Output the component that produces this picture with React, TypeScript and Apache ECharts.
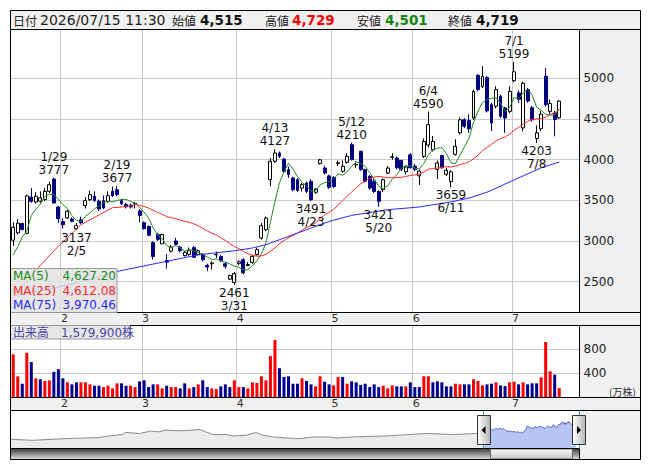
import React, { useEffect, useRef } from 'react';
import * as echarts from 'echarts';

// ---- trading days (2026) ----
const janDays = [16, 19, 20, 21, 22, 23, 26, 27, 28, 29, 30];
const febDays = [2, 3, 4, 5, 6, 9, 10, 12, 13, 16, 17, 18, 19, 20, 24, 25, 26, 27];
const marDays = [2, 3, 4, 5, 6, 9, 10, 11, 12, 13, 16, 17, 18, 19, 23, 24, 25, 26, 27, 30, 31];
const aprDays = [1, 2, 3, 6, 7, 8, 9, 10, 13, 14, 15, 16, 17, 20, 21, 22, 23, 24, 27, 28, 30];
const mayDays = [1, 7, 8, 11, 12, 13, 14, 15, 18, 19, 20, 21, 22, 25, 26, 27, 28, 29];
const junDays = [1, 2, 3, 4, 5, 8, 9, 10, 11, 12, 15, 16, 17, 18, 19, 22, 23, 24, 25, 26, 29, 30];
const julDays = [1, 2, 3, 6, 7, 8, 9, 10, 13, 14, 15];
const padSlots = 4;

// ---- OHLC ----
const opens = [
  3010, 3100, 3215, 3095, 3540, 3480, 3490, 3510, 3610, 3762, 3418,
  3240, 3283, 3270, 3150, 3262, 3435, 3508, 3549, 3488, 3496, 3488, 3610, 3630, 3496, 3450, 3440, 3460, 3370,
  3225, 3180, 2980, 3080, 2965, 2760, 2875, 3000, 2925, 2820, 2835, 2920, 2835, 2832, 2700, 2720, 2830, 2810, 2720, 2530, 2490,
  2725, 2770, 2700, 2737, 2832, 3037, 3139, 3754, 3980, 4082, 4008, 3877, 3775, 3754, 3651, 3713, 3733, 3598, 3951, 3897, 3800,
  3780, 3955, 3856, 3967, 4184, 3935, 4102, 3877, 3795, 3734, 3610, 3631, 3836, 4030, 4020, 3990, 3850, 4060,
  3920, 3800, 4040, 4180, 4120, 3880, 4050, 3820, 3730, 4065, 4330, 4490, 4480, 4512, 5037, 4900, 5010, 4676, 4656, 4779, 4635, 4594,
  4970, 4820, 4390, 4860, 4640, 4260, 4380, 5025, 4594, 4574, 4515,
];
const closes = [
  3170, 3220, 3140, 3555, 3488, 3550, 3530, 3610, 3692, 3467, 3274,
  3200, 3365, 3242, 3190, 3225, 3495, 3570, 3496, 3393, 3406, 3557, 3557, 3570, 3459, 3420, 3420, 3462, 3315,
  3150, 3070, 2810, 3020, 3080, 2740, 2925, 2960, 2880, 2860, 2880, 2800, 2880, 2770, 2680, 2730, 2836, 2760, 2690, 2575, 2600,
  2745, 2610, 2710, 2811, 2893, 3188, 3282, 3980, 4082, 4041, 3856, 3815, 3631, 3623, 3692, 3610, 3508, 3639, 3998, 3836, 3660,
  3670, 3962, 3918, 4041, 4000, 3940, 3877, 3734, 3651, 3610, 3488, 3754, 3897, 4035, 3900, 3880, 3910, 3900,
  3880, 3860, 4225, 4430, 4225, 3960, 3900, 3870, 3850, 4165, 4490, 4410, 4380, 4840, 4861, 5025, 4600, 4451, 4861, 4533, 4512, 4840,
  5080, 4740, 4940, 4720, 4490, 4330, 4560, 4676, 4689, 4492, 4719,
];
const lows = [
  2940, 3080, 3130, 3085, 3470, 3460, 3470, 3490, 3590, 3460, 3220,
  3150, 3270, 3230, 3137, 3210, 3400, 3490, 3480, 3370, 3390, 3470, 3540, 3550, 3440, 3400, 3400, 3400, 3230,
  3140, 3060, 2770, 3000, 2960, 2660, 2860, 2940, 2860, 2810, 2820, 2790, 2820, 2750, 2630, 2650, 2790, 2740, 2660, 2520, 2461,
  2700, 2590, 2690, 2720, 2820, 3016, 3120, 3672, 3960, 4020, 3840, 3775, 3610, 3600, 3610, 3590, 3491, 3580, 3940, 3815, 3640,
  3650, 3920, 3840, 3950, 3990, 3900, 3860, 3720, 3630, 3590, 3421, 3600, 3820, 4000, 3880, 3860, 3820, 3890,
  3860, 3690, 4020, 4150, 4100, 3760, 3890, 3800, 3659, 4050, 4310, 4390, 4330, 4490, 4840, 4880, 4580, 4350, 4630, 4510, 4328, 4570,
  4950, 4700, 4350, 4700, 4470, 4203, 4350, 4650, 4560, 4287, 4501,
];
const highs = [
  3230, 3270, 3225, 3570, 3650, 3600, 3610, 3650, 3730, 3777, 3430,
  3280, 3380, 3290, 3220, 3300, 3540, 3620, 3610, 3510, 3560, 3610, 3670, 3677, 3520, 3470, 3460, 3480, 3390,
  3240, 3190, 3000, 3100, 3090, 2840, 2950, 3040, 2940, 2880, 2920, 2940, 2900, 2850, 2720, 2750, 2870, 2830, 2740, 2590, 2620,
  2760, 2790, 2740, 2830, 2920, 3220, 3300, 4020, 4127, 4100, 4020, 3918, 3790, 3770, 3713, 3730, 3760, 3650, 4010, 3926, 3815,
  3800, 3990, 3990, 4080, 4210, 3980, 4110, 3890, 3810, 3760, 3620, 3770, 3920, 4080, 4040, 4000, 3930, 4080,
  3950, 3880, 4260, 4590, 4290, 3990, 4060, 3900, 3870, 4250, 4520, 4510, 4560, 4860, 5050, 5150, 5030, 4700, 4902, 4800, 4650, 4902,
  5199, 4850, 4960, 4880, 4660, 4420, 4600, 5127, 4740, 4600, 4729,
];
// volume in 10,000 shares (万株)
const volumes = [
  716, 352, 229, 743, 587, 319, 302, 274, 285, 425, 470,
  319, 252, 218, 252, 252, 252, 218, 196, 196, 173, 196, 151, 235, 235, 196, 196, 173, 268,
  285, 173, 218, 218, 151, 196, 173, 173, 151, 235, 151, 173, 218, 285, 173, 151, 140, 185, 218, 173, 285,
  173, 173, 151, 252, 241, 352, 285, 688, 956, 486, 341, 352, 229, 229, 319, 274, 218, 185, 352, 263, 218,
  201, 341, 341, 229, 268, 252, 207, 229, 173, 218, 173, 196, 151, 201, 185, 185, 185, 252,
  173, 173, 352, 352, 252, 268, 252, 185, 185, 229, 218, 218, 218, 302, 274, 201, 218, 229, 252, 201, 190, 252,
  263, 218, 252, 218, 235, 235, 335, 922, 436, 380, 157.99,
];

// ---- moving averages: read where earlier history is needed ----
const ma5Head = [2830, 2930, 3050, 3120];
const ma25Read: [number, number][] = [[1, 2360], [3, 2500], [6, 2700], [9, 2880], [12, 3040], [15, 3200], [19, 3320], [22, 3410]];
const ma75Read: [number, number][] = [
  [0, 2330], [9, 2420], [17, 2530], [23, 2626], [34, 2750], [41, 2830], [49, 2880], [53, 2914], [56, 2955], [60, 3036],
  [64, 3118], [70, 3240], [75, 3315], [83, 3385], [90, 3418], [97, 3480], [101, 3528], [105, 3600], [109, 3700],
  [113, 3800], [117, 3900], [121, 3970],
];
const maLegendValues = ['4,627.20', '4,612.08', '3,970.46'];

const priceTicks = [2500, 3000, 3500, 4000, 4500, 5000];
const volumeLabels = [400, 800];
const highMarks = ['1/29', '2/19', '4/13', '5/12', '6/4', '7/1'];
const lowMarks = ['2/5', '3/31', '4/23', '5/20', '6/11', '7/8'];

// ---- overview (slider background) ----
const overviewHistory: [number, number][] = [
  [0, 1170], [28, 950], [72, 1330], [115, 1550], [128, 1910], [146, 2230], [150, 2680], [168, 2450], [183, 2970],
  [194, 2820], [203, 3200], [220, 3040], [238, 3200], [246, 3360], [255, 2820], [264, 2230], [281, 2230], [290, 1910],
  [308, 2070], [321, 2680], [330, 2070], [343, 1690], [360, 1460], [378, 1330], [395, 1690], [417, 1690], [426, 1460],
  [448, 1690], [491, 1910], [544, 2450], [579, 2230], [610, 2450],
];
const yearLabels: [number, string][] = [[124, '24'], [373, '25']];
const overviewSlots = 745;
const windowStartSlot = 618;

const LATIN = 'DejaVu Sans, Noto Sans CJK JP, sans-serif';
const CJK = 'Noto Sans CJK JP, sans-serif';

function buildDates() {
  const months: [number, number[]][] = [[1, janDays], [2, febDays], [3, marDays], [4, aprDays], [5, mayDays], [6, junDays], [7, julDays]];
  const dates: string[] = [];
  const starts: number[] = [];
  months.forEach(([m, days]) => {
    if (m !== 1) starts.push(dates.length);
    days.forEach((d) => dates.push(`${m}/${d}`));
  });
  return { dates, starts };
}

const fmt = (n: number) => n.toLocaleString('en-US');
const avg = (a: number[]) => a.reduce((s, v) => s + v, 0) / a.length;

function buildOption() {
  const { dates, starts } = buildDates();
  const n = dates.length;
  const cats = dates.concat(Array.from({ length: padSlots }, (_, k) => `_${k}`));
  const isStart = (i: number) => starts.indexOf(i) >= 0;
  const last = n - 1;

  const ma5 = closes.map((_, i) => (i < 4 ? ma5Head[i] : +avg(closes.slice(i - 4, i + 1)).toFixed(2)));
  const ma25: (number | null)[] = closes.map((_, i) => (i >= 24 ? +avg(closes.slice(i - 24, i + 1)).toFixed(2) : null));
  ma25Read.forEach(([i, v]) => (ma25[i] = v));
  const ma75: (number | null)[] = closes.map(() => null);
  ma75Read.forEach(([i, v]) => (ma75[i] = v));

  const idx = (d: string) => dates.indexOf(d);
  const markData = [
    ...highMarks.map((d) => {
      const i = idx(d);
      return { coord: [i, highs[i]], value: highs[i], label: { position: 'top', formatter: `${d}\n${highs[i]}` } };
    }),
    ...lowMarks.map((d) => {
      const i = idx(d);
      return { coord: [i, lows[i]], value: lows[i], label: { position: 'bottom', formatter: `${lows[i]}\n${d}` } };
    }),
  ];

  const hist: (number | null)[] = Array.from({ length: overviewSlots }, () => null);
  overviewHistory.forEach(([s, v]) => (hist[s] = v));
  hist[windowStartSlot] = closes[0];
  const win: (number | null)[] = Array.from({ length: overviewSlots }, () => null);
  closes.forEach((c, i) => (win[windowStartSlot + i] = c));
  const ovCats = Array.from({ length: overviewSlots }, (_, i) => String(i));
  const yearSlots = yearLabels.map((y) => y[0]);

  const monthAxis = (gridIndex: number) => ({
    type: 'category',
    gridIndex,
    data: cats,
    boundaryGap: true,
    axisLine: { show: false },
    axisTick: { show: false },
    axisLabel: {
      interval: (i: number) => isStart(i),
      formatter: (v: string) => v.split('/')[0],
      margin: 0,
      padding: [0, 0, 0, 3],
      fontSize: 11,
      color: '#333',
      fontFamily: LATIN,
    },
    splitLine: { show: true, interval: (i: number) => isStart(i), lineStyle: { color: '#c8c8c8', width: 1 } },
  });

  const gray = '#f0f0f0';
  const line = (x1: number, y1: number, x2: number, y2: number, color = '#000') => ({
    type: 'line', shape: { x1, y1, x2, y2 }, style: { stroke: color, lineWidth: 1 }, z: 50, silent: true,
  });
  const txt = (x: number, y: number, text: string, o: any = {}) => ({
    type: 'text', x, y, z: 60, silent: true,
    style: { text, fill: o.fill || '#222', fontSize: o.size || 12, fontFamily: o.family || LATIN, fontWeight: o.weight || 'normal', align: o.align || 'left', verticalAlign: 'middle' },
  });

  const header = [
    txt(13, 20, '日付', { family: CJK }),
    txt(40, 20, '2026/07/15 11:30', { size: 14 }),
    txt(172, 20, '始値', { family: CJK }),
    txt(200, 20, fmt(opens[last]), { size: 13.5, weight: 'bold', fill: '#111' }),
    txt(265, 20, '高値', { family: CJK }),
    txt(292, 20, fmt(highs[last]), { size: 13.5, weight: 'bold', fill: '#ff0000' }),
    txt(357, 20, '安値', { family: CJK }),
    txt(385, 20, fmt(lows[last]), { size: 13.5, weight: 'bold', fill: '#118811' }),
    txt(448, 20, '終値', { family: CJK }),
    txt(476, 20, fmt(closes[last]), { size: 13.5, weight: 'bold', fill: '#111' }),
  ];

  const maColors = ['#228b22', '#ff2a2a', '#2a2aff'];
  const maNames = ['MA(5)', 'MA(25)', 'MA(75)'];
  const legend: any[] = [
    { type: 'rect', shape: { x: 10.5, y: 268.5, width: 106.5, height: 44 }, style: { fill: 'rgba(226,226,226,0.85)', stroke: '#999', lineWidth: 1 }, z: 55, silent: true },
  ];
  maNames.forEach((nm, k) => {
    legend.push(txt(13, 276 + k * 14.5, nm, { fill: maColors[k] }));
    legend.push(txt(116, 276 + k * 14.5, maLegendValues[k], { fill: maColors[k], align: 'right' }));
  });
  legend.push({ type: 'rect', shape: { x: 10.5, y: 325.5, width: 119.5, height: 13.5 }, style: { fill: 'rgba(226,226,226,0.85)', stroke: '#999', lineWidth: 1 }, z: 55, silent: true });
  legend.push(txt(13, 332.5, `出来高　${fmt(Math.round(volumes[last] * 10000))}株`, { fill: '#4848a8' }));
  legend.push(txt(609, 391, '(万株)', { size: 10, family: CJK, fill: '#333' }));

  const slider = [
    { type: 'rect', shape: { x: 10.5, y: 448.5, width: 569, height: 11 }, z: 40, silent: true,
      style: { fill: new echarts.graphic.LinearGradient(0, 0, 0, 1, [{ offset: 0, color: '#3a3a3a' }, { offset: 1, color: '#e2e2e2' }]) } },
    { type: 'rect', shape: { x: 490.5, y: 449, width: 82, height: 10 }, z: 41, silent: true,
      style: { fill: new echarts.graphic.LinearGradient(0, 0, 0, 1, [{ offset: 0, color: '#fafafa' }, { offset: 1, color: '#c4c4c4' }]), stroke: '#666', lineWidth: 1 } },
    line(483.5, 410.5, 483.5, 448.5, '#3aa0e0'),
    line(579.5, 410.5, 579.5, 448.5, '#3aa0e0'),
    { type: 'rect', shape: { x: 477.5, y: 415.5, width: 13, height: 29 }, z: 70, silent: true,
      style: { fill: new echarts.graphic.LinearGradient(0, 0, 1, 0, [{ offset: 0, color: '#ffffff' }, { offset: 1, color: '#b4b4b4' }]), stroke: '#333', lineWidth: 1 } },
    { type: 'polygon', shape: { points: [[481.5, 430], [485.5, 426], [485.5, 434]] }, style: { fill: '#000' }, z: 71, silent: true },
    { type: 'rect', shape: { x: 572.5, y: 415.5, width: 13, height: 29 }, z: 70, silent: true,
      style: { fill: new echarts.graphic.LinearGradient(0, 0, 1, 0, [{ offset: 0, color: '#ffffff' }, { offset: 1, color: '#b4b4b4' }]), stroke: '#333', lineWidth: 1 } },
    { type: 'polygon', shape: { points: [[577, 426], [581, 430], [577, 434]] }, style: { fill: '#000' }, z: 71, silent: true },
  ];

  const frame = [
    { type: 'rect', shape: { x: 10.5, y: 10.5, width: 630, height: 449 }, style: { fill: gray }, z: -100, silent: true },
    line(10.5, 29.5, 640.5, 29.5),
    line(10.5, 312.5, 640.5, 312.5),
    line(10.5, 325.5, 640.5, 325.5),
    line(10.5, 397.5, 640.5, 397.5),
    line(10.5, 410.5, 640.5, 410.5),
    line(10.5, 448.5, 579.5, 448.5),
    line(579.5, 29.5, 579.5, 312.5),
    line(579.5, 325.5, 579.5, 397.5),
    line(579.5, 448.5, 579.5, 459.5),
    { type: 'rect', shape: { x: 10.5, y: 10.5, width: 630, height: 449 }, style: { fill: 'none', stroke: '#000', lineWidth: 1 }, z: 100, silent: true },
  ];

  // volume colour: close compared with the previous close
  const volColor = (i: number) => {
    const up = i === 0 ? closes[0] >= opens[0] : closes[i] >= closes[i - 1];
    return up ? '#ff0000' : '#000090';
  };

  return {
    animation: false,
    backgroundColor: '#ffffff',
    textStyle: { fontFamily: LATIN },
    grid: [
      { left: 11, top: 29.5, width: 568.5, height: 283, show: true, backgroundColor: '#fff', borderWidth: 0 },
      { left: 11, top: 325.5, width: 568.5, height: 72, show: true, backgroundColor: '#fff', borderWidth: 0 },
      { left: 11, top: 410.5, width: 568.5, height: 38, show: true, backgroundColor: '#fff', borderWidth: 0 },
    ],
    xAxis: [
      monthAxis(0),
      monthAxis(1),
      {
        type: 'category', gridIndex: 2, data: ovCats, boundaryGap: false,
        axisLine: { show: false }, axisTick: { show: false }, splitLine: { show: false },
        axisLabel: {
          inside: true, margin: 0, interval: (i: number) => yearSlots.indexOf(i) >= 0,
          formatter: (_v: string, i: number) => { const y = yearLabels.find((p) => p[0] === i); return y ? y[1] : ''; },
          fontSize: 11, color: '#333', backgroundColor: '#fff', padding: [0, 1, 0, 1], fontFamily: LATIN,
        },
      },
    ],
    yAxis: [
      { type: 'value', gridIndex: 0, position: 'right', min: 2121, max: 5600, axisLabel: { show: false }, splitLine: { show: false }, axisLine: { show: false }, axisTick: { show: false } },
      {
        type: 'value', gridIndex: 1, position: 'right', min: 0, max: 1195, interval: 400,
        axisLine: { show: false }, axisTick: { show: false },
        splitLine: { lineStyle: { color: '#c8c8c8', width: 1 } },
        axisLabel: { margin: 4, fontSize: 12, color: '#222', fontFamily: LATIN, formatter: (v: number) => (volumeLabels.indexOf(v) >= 0 ? String(v) : '') },
      },
      { type: 'value', gridIndex: 2, min: -850, max: 7500, show: false },
    ],
    series: [
      {
        type: 'line', name: 'grid', xAxisIndex: 0, yAxisIndex: 0, data: closes.map(() => null), silent: true, z: 1,
        markLine: {
          silent: true, z: 1, symbol: ['none', 'none'],
          lineStyle: { color: '#c8c8c8', width: 1, type: 'solid' },
          label: { show: true, position: 'end', distance: 4, formatter: '{c}', color: '#222', fontSize: 12, fontFamily: LATIN },
          emphasis: { disabled: true },
          data: priceTicks.map((v) => ({ yAxis: v })),
        },
      },
      {
        type: 'candlestick', name: 'price', xAxisIndex: 0, yAxisIndex: 0, z: 3, barWidth: 3.4,
        data: closes.map((c, i) => [opens[i], c, lows[i], highs[i]]),
        itemStyle: { color: '#ffffff', color0: '#000080', borderColor: '#000000', borderColor0: '#000080', borderColorDoji: '#000000', borderWidth: 1 },
        markPoint: {
          silent: true, symbol: 'circle', symbolSize: 1, itemStyle: { color: 'rgba(0,0,0,0)' },
          label: { color: '#111', fontSize: 12, lineHeight: 13, fontFamily: LATIN, distance: 1 },
          data: markData,
        },
      },
      { type: 'line', name: 'MA5', xAxisIndex: 0, yAxisIndex: 0, data: ma5, showSymbol: false, connectNulls: true, z: 4, silent: true, lineStyle: { color: maColors[0], width: 1 } },
      { type: 'line', name: 'MA25', xAxisIndex: 0, yAxisIndex: 0, data: ma25, showSymbol: false, connectNulls: true, z: 4, silent: true, lineStyle: { color: maColors[1], width: 1 } },
      { type: 'line', name: 'MA75', xAxisIndex: 0, yAxisIndex: 0, data: ma75, showSymbol: false, connectNulls: true, z: 4, silent: true, lineStyle: { color: maColors[2], width: 1 } },
      {
        type: 'bar', name: 'volume', xAxisIndex: 1, yAxisIndex: 1, barWidth: 3, silent: true,
        data: volumes.map((v, i) => ({ value: v, itemStyle: { color: volColor(i) } })),
      },
      {
        type: 'line', name: 'history', xAxisIndex: 2, yAxisIndex: 2, data: hist, connectNulls: true, showSymbol: false, silent: true,
        lineStyle: { color: '#8c8c8c', width: 1 }, areaStyle: { color: '#ececec', origin: 'start', opacity: 1 },
      },
      {
        type: 'line', name: 'window', xAxisIndex: 2, yAxisIndex: 2, data: win, connectNulls: true, showSymbol: false, silent: true,
        lineStyle: { color: '#5a64c8', width: 1 }, areaStyle: { color: '#b6c5f4', origin: 'start', opacity: 1 },
      },
    ],
    graphic: { elements: [...frame, ...header, ...legend, ...slider] },
  };
}

export default function App() {
  const ref = useRef<HTMLDivElement>(null);
  useEffect(() => {
    if (!ref.current) return;
    const chart = echarts.init(ref.current, null, { renderer: 'svg' });
    chart.setOption(buildOption() as any);
    return () => chart.dispose();
  }, []);
  return <div ref={ref} style={{ position: 'fixed', left: 0, top: 0, width: 653, height: 470, background: '#fff' }} />;
}
